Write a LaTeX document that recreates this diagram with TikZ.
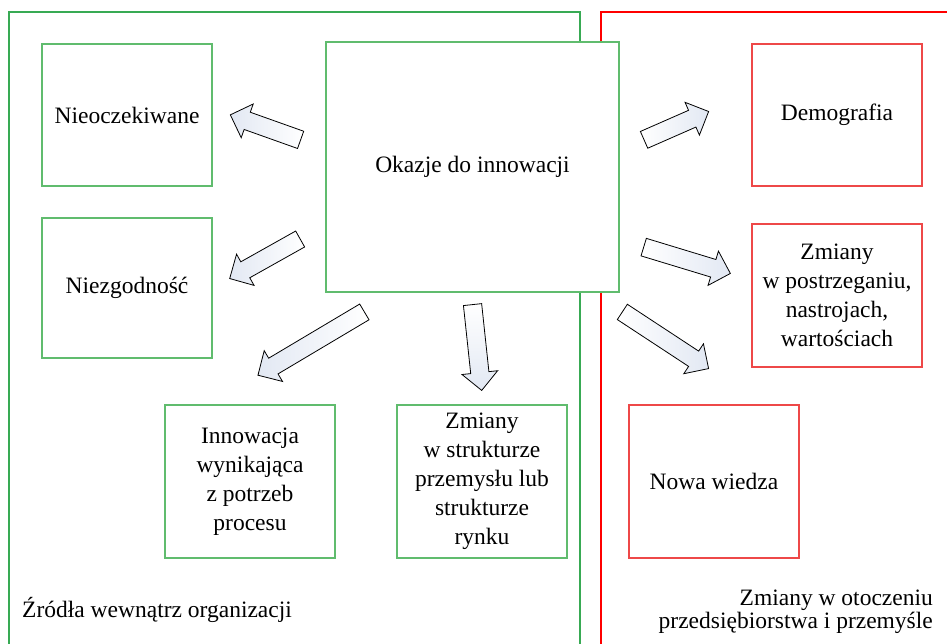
\documentclass[tikz,border=0pt]{standalone}
\usepackage{fontspec}
\setmainfont{Liberation Serif}
\usetikzlibrary{shapes.arrows}

\definecolor{frameGreen}{RGB}{56,170,84}
\definecolor{boxGreen}{RGB}{96,188,110}
\definecolor{frameRed}{RGB}{255,0,0}
\definecolor{boxRed}{RGB}{238,72,72}
\definecolor{arrowBlue}{RGB}{226,232,243}

\tikzset{
  label font/.style={font=\fontsize{23.5}{29}\selectfont},
  greenbox/.style={draw=boxGreen, line width=1.3pt, fill=white, align=center,
    inner sep=0pt, label font},
  redbox/.style={draw=boxRed, line width=1.3pt, fill=white, align=center,
    inner sep=0pt, label font},
  frame/.style={line width=2.6pt},
  blockarrow/.style={single arrow, draw=black, line width=0.8pt,
    text height=17.5pt, text depth=0pt, single arrow head extend=8.75pt,
    single arrow tip angle=90, inner sep=0pt, anchor=tail},
  % shading runs from a white tail to a pale blue head
  toleft/.style={blockarrow, left color=arrowBlue, right color=white},
  toright/.style={blockarrow, left color=white, right color=arrowBlue},
  todown/.style={blockarrow, top color=white, bottom color=arrowBlue},
}

\begin{document}
\begin{tikzpicture}[x=1pt, y=-1pt]
  \useasboundingbox (0,0) rectangle (947,643);
  \fill[white] (0,0) rectangle (947,643);

  % outer frames: internal sources and external environment
  \draw[frame, draw=frameGreen] (9,660) -- (9,12) -- (580,12) -- (580,660);
  \draw[frame, draw=frameRed] (601,660) -- (601,12) -- (960,12);

  % central box
  \node[greenbox, minimum width=293pt, minimum height=250pt] (okazje) at (472.5,167)
    {Okazje do innowacji};

  % internal sources
  \node[greenbox, minimum width=170pt, minimum height=142pt] (nieocz) at (127,115)
    {Nieoczekiwane};
  \node[greenbox, minimum width=170pt, minimum height=140pt] (niezg) at (127,288)
    {Niezgodność};
  \node[greenbox, minimum width=170pt, minimum height=153pt] (proces) at (250,481.5)
    {Innowacja\\wynikająca\\z potrzeb\\procesu};
  \node[greenbox, minimum width=170pt, minimum height=153pt] (struktura) at (482,481.5)
    {Zmiany\\w strukturze\\przemysłu lub\\strukturze\\rynku};

  % external sources
  \node[redbox, minimum width=170pt, minimum height=142pt] (demo) at (837,115)
    {Demografia};
  \node[redbox, minimum width=170pt, minimum height=143pt] (postrz) at (837,295.5)
    {Zmiany\\w postrzeganiu,\\nastrojach,\\wartościach};
  \node[redbox, minimum width=170pt, minimum height=153pt] (wiedza) at (714,481.5)
    {Nowa wiedza};

  % block arrows leaving the central box
  \node[toleft, rotate=160.4, minimum height=74.6pt] (a1) at (301,140) {};
  \node[toleft, rotate=209.3, minimum height=80.8pt] (a2) at (300.5,238.8) {};
  \node[toleft, rotate=210.75, minimum height=123.8pt] (a3) at (364.7,311.7) {};
  \node[todown, rotate=276.1, minimum height=86.3pt] (a4) at (472.5,304.2) {};
  \node[toright, rotate=23.7, minimum height=70.5pt] (a5) at (643.7,140) {};
  \node[toright, rotate=-16.9, minimum height=90.6pt] (a6) at (643.3,247) {};
  \node[toright, rotate=-33.3, minimum height=103.2pt] (a7) at (622,311.7) {};

  % frame captions
  \node[label font, inner sep=0pt, anchor=base west] (wewn) at (22,617)
    {Źródła wewnątrz organizacji};
  \node[font=\fontsize{23.5}{23}\selectfont, align=right, inner sep=0pt,
    anchor=north east] (otocz) at (933,590)
    {Zmiany w otoczeniu\\przedsiębiorstwa i przemyśle};
\end{tikzpicture}
\end{document}
